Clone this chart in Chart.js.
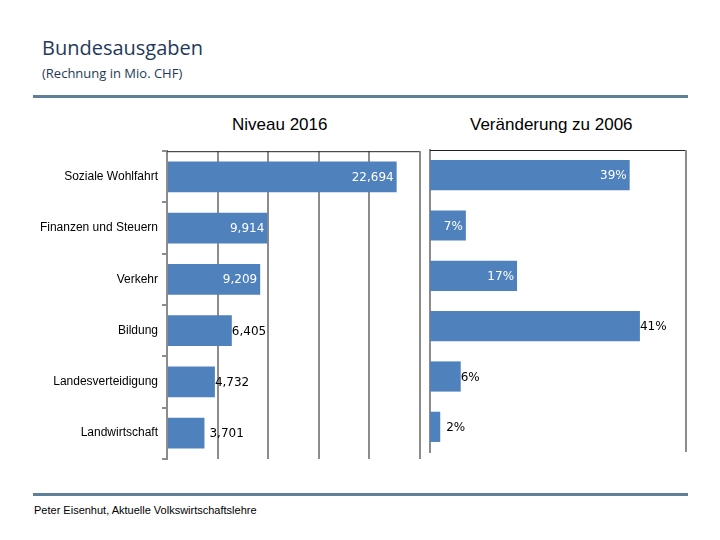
<!DOCTYPE html>
<html lang="de">
<head>
    <meta charset="UTF-8">
    <title>Bundesausgaben</title>
    <script src="https://cdn.jsdelivr.net/npm/chart.js"></script>
    <style>
        body {
            margin: 0;
            width: 720px;
            height: 540px;
            position: relative;
            background: #fff;
            font-family: "Liberation Sans", Arial, sans-serif;
        }
        .abs { position: absolute; }
        #title { left: 42px; top: 34px; font-size: 20px; color: #1f3a5a; font-family: "Open Sans", sans-serif; }
        #subtitle { left: 42px; top: 64px; font-size: 13px; color: #1f3a5a; font-family: "Open Sans", sans-serif; }
        .rule { left: 33px; width: 655px; height: 3px; background: #5e7f98; }
        .charttitle { top: 115px; font-size: 17px; color: #000; }
        #footer { left: 34px; top: 504px; font-size: 11px; color: #000; }
    </style>
</head>
<body>
    <div id="title" class="abs">Bundesausgaben</div>
    <div id="subtitle" class="abs">(Rechnung in Mio. CHF)</div>
    <div class="abs rule" style="top:95px"></div>

    <div class="abs charttitle" style="left:232px">Niveau 2016</div>
    <div class="abs charttitle" style="left:470px">Veränderung zu 2006</div>

    <canvas id="niveau" class="abs" style="left:30px;top:140px" width="400" height="330"></canvas>
    <canvas id="veraenderung" class="abs" style="left:425px;top:140px" width="290" height="330"></canvas>

    <div class="abs rule" style="top:493px"></div>
    <div id="footer" class="abs">Peter Eisenhut, Aktuelle Volkswirtschaftslehre</div>

    <script>
        const categories = ['Soziale Wohlfahrt', 'Finanzen und Steuern', 'Verkehr', 'Bildung', 'Landesverteidigung', 'Landwirtschaft'];
        const niveau2016 = [22694, 9914, 9209, 6405, 4732, 3701];
        const veraenderung2006 = [39, 7, 17, 41, 6, 2];

        const barColor = '#4f81bd';

        // draws the value labels: white inside the bar end, or black just past it
        const valueLabels = {
            id: 'valueLabels',
            afterDatasetsDraw(chart, args, opts) {
                const ctx = chart.ctx;
                const meta = chart.getDatasetMeta(0);
                ctx.save();
                ctx.font = '12px "DejaVu Sans", sans-serif';
                ctx.textBaseline = 'middle';
                meta.data.forEach((bar, i) => {
                    const v = chart.data.datasets[0].data[i];
                    const text = opts.format(v);
                    if (opts.position[i] === 'in') {
                        ctx.fillStyle = '#fff';
                        ctx.textAlign = 'right';
                        ctx.fillText(text, bar.x - 3, bar.y + 1);
                    } else {
                        ctx.fillStyle = '#000';
                        ctx.textAlign = 'left';
                        ctx.fillText(text, bar.x + opts.gap[i], bar.y + 1);
                    }
                });
                ctx.restore();
            }
        };

        // top and right edge of the plot area
        const frame = {
            id: 'frame',
            afterDraw(chart) {
                const { ctx, chartArea: a } = chart;
                ctx.save();
                ctx.strokeStyle = '#222';
                ctx.lineWidth = 1;
                ctx.beginPath();
                ctx.moveTo(a.left, a.top + 0.5);
                ctx.lineTo(a.right, a.top + 0.5);
                ctx.stroke();
                ctx.strokeStyle = '#8c8c8c';
                ctx.lineWidth = 2;
                ctx.beginPath();
                ctx.moveTo(a.right, a.top);
                ctx.lineTo(a.right, a.bottom);
                ctx.stroke();
                ctx.restore();
            }
        };

        new Chart(document.getElementById('niveau'), {
            type: 'bar',
            data: {
                labels: categories,
                datasets: [{
                    data: niveau2016,
                    backgroundColor: barColor,
                    barPercentage: 0.6,
                    categoryPercentage: 1
                }]
            },
            options: {
                indexAxis: 'y',
                responsive: false,
                animation: false,
                layout: { padding: { top: 10, right: 10, bottom: 10, left: 0 } },
                plugins: {
                    legend: { display: false },
                    tooltip: { enabled: false },
                    valueLabels: {
                        format: v => v.toLocaleString('en-US'),
                        position: ['in', 'in', 'in', 'out', 'out', 'out'],
                        gap: [0, 0, 0, 0, 0, 5]
                    }
                },
                scales: {
                    x: {
                        min: 0,
                        max: 25000,
                        ticks: { display: false, stepSize: 5000 },
                        grid: { color: '#8c8c8c', lineWidth: 2, drawTicks: false },
                        border: { display: false }
                    },
                    y: {
                        afterFit(scale) { scale.width = 137; },
                        ticks: { color: '#000', font: { size: 12, family: '"Liberation Sans", Arial, sans-serif' }, padding: 4 },
                        grid: { drawOnChartArea: false, drawTicks: true, tickLength: 5, color: '#8c8c8c', lineWidth: 2 },
                        border: { color: '#8c8c8c', width: 2 }
                    }
                }
            },
            plugins: [valueLabels, frame]
        });

        new Chart(document.getElementById('veraenderung'), {
            type: 'bar',
            data: {
                labels: categories,
                datasets: [{
                    data: veraenderung2006,
                    backgroundColor: barColor,
                    barPercentage: 0.6,
                    categoryPercentage: 1
                }]
            },
            options: {
                indexAxis: 'y',
                responsive: false,
                animation: false,
                layout: { padding: { top: 10, right: 29, bottom: 10, left: 0 } },
                plugins: {
                    legend: { display: false },
                    tooltip: { enabled: false },
                    valueLabels: {
                        format: v => v + '%',
                        position: ['in', 'in', 'in', 'out', 'out', 'out'],
                        gap: [0, 0, 0, 0, 0, 6]
                    }
                },
                scales: {
                    x: {
                        min: 0,
                        max: 50,
                        ticks: { display: false },
                        grid: { display: false },
                        border: { display: false }
                    },
                    y: {
                        afterFit(scale) { scale.width = 5; },
                        ticks: { display: false },
                        grid: { display: false },
                        border: { color: '#8c8c8c', width: 2 }
                    }
                }
            },
            plugins: [valueLabels, frame]
        });
    </script>
</body>
</html>
